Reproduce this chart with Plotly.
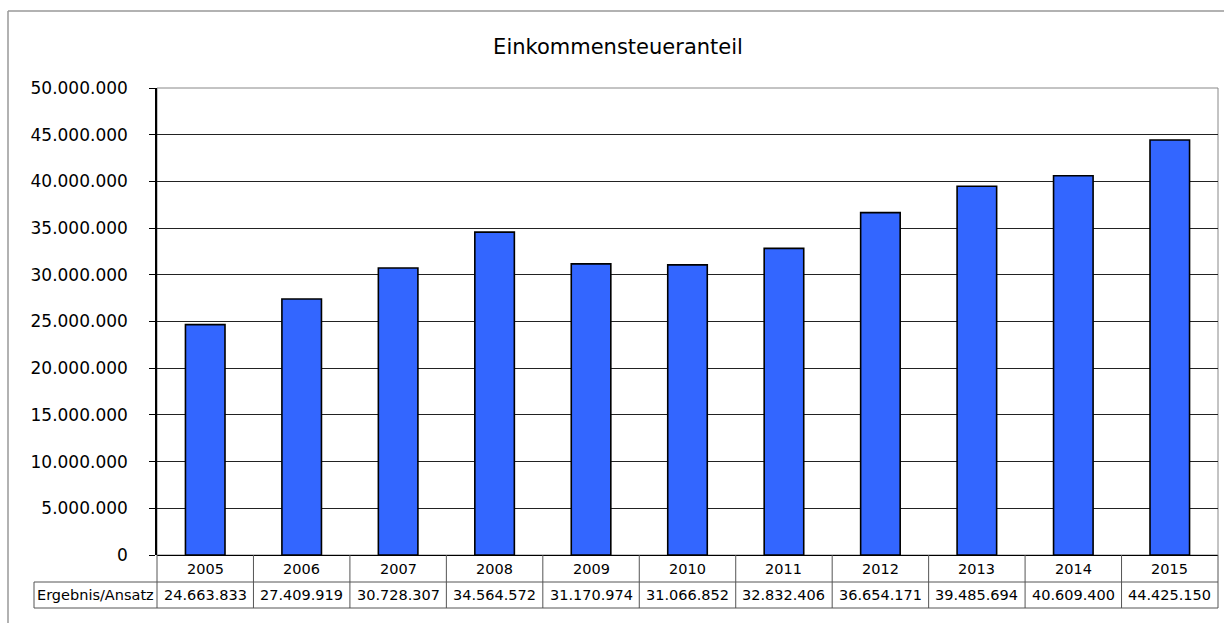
"""
Einkommensteueranteil — Excel-style bar chart with data table underneath.
"""
import plotly.graph_objects as go

YEARS = ["2005", "2006", "2007", "2008", "2009", "2010",
         "2011", "2012", "2013", "2014", "2015"]
ERGEBNIS = [24663833, 27409919, 30728307, 34564572, 31170974, 31066852,
            32832406, 36654171, 39485694, 40609400, 44425150]
ROW_LABEL = "Ergebnis/Ansatz"
TITLE = "Einkommensteueranteil"

W, H = 1224, 623
L, R, T, B = 157, 6, 88, 68
FONT = "DejaVu Sans"
BAR_COLOR = "#3366FF"
TABLE_LINE = "#555555"


def px_x(x):
    return (x - L) / (W - L - R)


def px_y(y):
    return (H - B - y) / (H - T - B)


def fmt(v):
    return f"{v:,}".replace(",", ".")


fig = go.Figure()
fig.add_trace(go.Bar(
    x=YEARS, y=ERGEBNIS,
    width=0.41,
    marker=dict(color=BAR_COLOR, line=dict(color="#000000", width=1.6)),
    hovertemplate="%{x}: %{y:,}<extra></extra>",
))

n = len(YEARS)
shapes = []
line = dict(color=TABLE_LINE, width=1)
row1_y, row2_y, row3_y = px_y(555), px_y(582), px_y(608)

# table: horizontal lines
shapes.append(dict(type="line", xref="paper", yref="paper",
                   x0=px_x(34), x1=1, y0=row2_y, y1=row2_y, line=line))
shapes.append(dict(type="line", xref="paper", yref="paper",
                   x0=px_x(34), x1=1, y0=row3_y, y1=row3_y, line=line))
shapes.append(dict(type="line", xref="paper", yref="paper",
                   x0=px_x(34), x1=px_x(34), y0=row2_y, y1=row3_y, line=line))
# table: vertical column separators
for i in range(n + 1):
    xp = i / n
    shapes.append(dict(type="line", xref="paper", yref="paper",
                       x0=xp, x1=xp, y0=row1_y, y1=row3_y, line=line))

# plot area border (grey), outer chart frame
shapes.append(dict(type="rect", xref="paper", yref="paper", x0=0, x1=1, y0=0, y1=1,
                   line=dict(color="#888888", width=1), layer="below"))
shapes.append(dict(type="line", xref="paper", yref="paper",
                   x0=px_x(8), x1=px_x(8), y0=px_y(11), y1=px_y(630),
                   line=dict(color="#999999", width=1.5)))
shapes.append(dict(type="line", xref="paper", yref="paper",
                   x0=px_x(8), x1=px_x(1230), y0=px_y(11), y1=px_y(11),
                   line=dict(color="#999999", width=1.5)))

annotations = []
tfont = dict(family=FONT, size=14.5, color="#000")
for i, (yr, v) in enumerate(zip(YEARS, ERGEBNIS)):
    annotations.append(dict(x=i, xref="x", y=(row1_y + row2_y) / 2, yref="paper",
                            text=yr, showarrow=False, xanchor="center",
                            yanchor="middle", font=tfont))
    annotations.append(dict(x=i, xref="x", y=(row2_y + row3_y) / 2, yref="paper",
                            text=fmt(v), showarrow=False, xanchor="center",
                            yanchor="middle", font=tfont))
annotations.append(dict(x=px_x((34 + L) / 2), xref="paper", y=(row2_y + row3_y) / 2,
                        yref="paper", text=ROW_LABEL, showarrow=False,
                        xanchor="center", yanchor="middle", font=tfont))

fig.update_layout(
    width=W, height=H,
    margin=dict(l=L, r=R, t=T, b=B),
    paper_bgcolor="white", plot_bgcolor="white",
    separators=",.",
    font=dict(family=FONT, color="#000"),
    title=dict(text=TITLE, xref="container", x=618 / W, xanchor="center",
               y=1 - 47 / H, yanchor="middle",
               font=dict(family=FONT, size=21, color="#000")),
    showlegend=False,
    shapes=shapes,
    annotations=annotations,
)
fig.update_xaxes(type="category", showticklabels=False, showgrid=False, ticks="",
                 showline=False, zeroline=False, range=[-0.5, n - 0.5])
fig.update_yaxes(range=[0, 50000000], dtick=5000000, tickformat=",d",
                 showgrid=True, gridcolor="#222222", gridwidth=1,
                 zeroline=True, zerolinecolor="#000", zerolinewidth=1,
                 showline=True, linecolor="#000", linewidth=1.5,
                 ticks="outside", ticklen=6, tickcolor="#000",
                 ticklabelstandoff=18,
                 tickfont=dict(family=FONT, size=17, color="#000"))

fig.write_html("out.html", config={"displayModeBar": False},
               post_script="document.body.style.margin='0';")
